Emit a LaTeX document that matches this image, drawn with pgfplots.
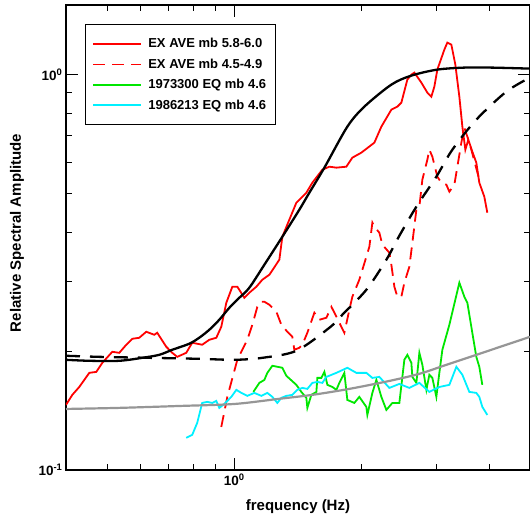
\documentclass[border=0pt]{standalone}
\usepackage{fontspec}
\setmainfont{Liberation Sans}
\usepackage{pgfplots}
\pgfplotsset{compat=1.18}
\definecolor{myred}{RGB}{255,0,0}
\definecolor{mygreen}{RGB}{0,230,0}
\definecolor{mycyan}{RGB}{0,240,255}
\definecolor{mygray}{RGB}{150,150,150}
\begin{document}
\begin{tikzpicture}[x=1pt,y=1pt]
\useasboundingbox (0,0) rectangle (530,516);
\begin{axis}[
  at={(66pt,46pt)}, anchor=south west,
  scale only axis, width=464pt, height=465pt,
  xmode=log, ymode=log,
  xmin=0.4, xmax=5, ymin=0.1, ymax=1.5,
  xtick={1}, xticklabels={\textbf{10\textsuperscript{0}}},
  ytick={0.1,1}, yticklabels={\textbf{10\textsuperscript{-1}},\textbf{10\textsuperscript{0}}},
  minor xtick={0.5,0.6,0.7,0.8,0.9,2,3,4},
  minor ytick={0.2,0.3,0.4,0.5,0.6,0.7,0.8,0.9},
  major tick length=12pt, minor tick length=6pt,
  tick style={black, line width=0.8pt},
  axis line style={line width=1.3pt},
  ticklabel style={font=\fontsize{13.5}{15}\selectfont},
  xlabel={\textbf{frequency (Hz)}},
  ylabel={\textbf{Relative Spectral Amplitude}},
  label style={font=\fontsize{15}{18}\selectfont},
  xlabel style={at={(axis description cs:0.5,-0.0796)}, anchor=center},
  ylabel style={at={(axis description cs:-0.1056,0.51)}, anchor=center},
  legend style={at={(axis description cs:0.041,0.959)}, anchor=north west,
    draw=black, line width=1pt, font=\bfseries\fontsize{13}{15}\selectfont,
    inner xsep=7pt, inner ysep=12pt, row sep=5.5pt,
    cells={anchor=west}},
  legend image code/.code={\draw[#1, line width=1.8pt] (0pt,0pt) -- (48pt,0pt); \path (52pt,0pt);},
]
% spectra
\addplot[myred, line width=1.8pt] coordinates {
(0.4,0.1461)(0.414,0.1549)(0.43,0.1622)(0.4541,0.1761)(0.4718,0.1771)(0.4874,0.1867)(0.5147,0.1991)(0.5346,0.1979)(0.5554,0.2074)(0.5738,0.2147)(0.596,0.216)(0.6192,0.2237)(0.6467,0.2198)(0.6573,0.2224)(0.6903,0.205)(0.7133,0.1979)(0.7329,0.1933)(0.7697,0.1979)(0.7952,0.2098)(0.8396,0.2074)(0.8727,0.2135)(0.9066,0.216)(0.9315,0.2303)(0.9573,0.2648)(0.9893,0.2908)(1.0165,0.2908)(1.056,0.2727)(1.0852,0.2808)(1.1274,0.2908)(1.1648,0.3029)(1.21,0.3118)(1.2777,0.3403)(1.2988,0.3891)(1.3491,0.4296)(1.4016,0.4743)(1.4247,0.4827)(1.4801,0.5028)(1.5293,0.533)(1.6151,0.5749)(1.6778,0.585)(1.743,0.5817)(1.8403,0.585)(1.9014,0.6166)(1.9966,0.6348)(2.1431,0.6729)(2.2263,0.7386)(2.3508,0.8155)(2.4289,0.8299)(2.4822,0.8495)(2.5647,0.9713)(2.6212,1.0)(2.6645,1.0118)(2.7678,0.9545)(2.8598,0.9004)(2.9226,0.8796)(2.9708,0.9325)(3.0197,1.0296)(3.137,1.1568)(3.1886,1.205)(3.2587,1.191)(3.3306,1.0601)(3.4039,0.8796)(3.4601,0.7386)(3.5169,0.646)(3.5748,0.6848)(3.6532,0.6385)(3.7337,0.5989)(3.795,0.533)(3.8998,0.4912)(3.9639,0.4475)
};
\addlegendentry{EX AVE mb 5.8-6.0}
\addplot[myred, line width=1.8pt, dash pattern=on 12pt off 7pt] coordinates {
(0.9315,0.1285)(0.9625,0.1531)(1.0165,0.19)(1.0733,0.2135)(1.1031,0.233)(1.1335,0.2587)(1.1584,0.2664)(1.1775,0.2664)(1.21,0.2618)(1.257,0.2514)(1.2916,0.233)(1.3346,0.2237)(1.3713,0.2172)(1.3863,0.2014)(1.4247,0.2038)(1.4482,0.2074)(1.4881,0.2224)(1.546,0.2499)(1.5889,0.2399)(1.6507,0.2427)(1.6961,0.2587)(1.7335,0.247)(1.7714,0.2358)(1.8203,0.2224)(1.8705,0.2543)(1.9014,0.2743)(1.975,0.3029)(2.0518,0.3463)(2.0855,0.3671)(2.1199,0.4222)(2.1431,0.4124)(2.2022,0.3983)(2.2385,0.3714)(2.3254,0.3545)(2.3508,0.3305)(2.3896,0.2908)(2.4289,0.2743)(2.4822,0.2743)(2.5232,0.2977)(2.5929,0.3267)(2.6357,0.3758)(2.6938,0.4554)(2.7379,0.4634)(2.7831,0.5424)(2.8598,0.6094)(2.891,0.646)(2.9387,0.6202)(3.0197,0.5519)(3.086,0.533)(3.1714,0.5268)(3.2236,0.5058)(3.3126,0.5268)(3.3671,0.585)(3.441,0.6729)(3.4979,0.7344)(3.5554,0.6968)(3.6331,0.646)(3.7132,0.5919)(3.795,0.5424)
};
\addlegendentry{EX AVE mb 4.5-4.9}
\addplot[mygreen, line width=1.8pt] coordinates {
(1.1091,0.1576)(1.1459,0.1661)(1.1775,0.169)(1.1969,0.1761)(1.23,0.1835)(1.2988,0.1814)(1.3274,0.1731)(1.4016,0.1642)(1.4402,0.1576)(1.4801,0.1522)(1.4881,0.1436)(1.5209,0.1549)(1.563,0.1576)(1.5715,0.171)(1.6062,0.171)(1.6328,0.1771)(1.6596,0.1642)(1.7055,0.1622)(1.743,0.1595)(1.7714,0.1661)(1.8203,0.1761)(1.8502,0.1504)(1.9221,0.1478)(1.975,0.1531)(2.0518,0.1444)(2.0629,0.1378)(2.1199,0.1567)(2.1666,0.169)(2.2263,0.1531)(2.2878,0.1419)(2.3637,0.1478)(2.4554,0.1478)(2.5232,0.19)(2.5647,0.1956)(2.6212,0.1867)(2.6357,0.172)(2.6938,0.1661)(2.7379,0.1979)(2.7831,0.1845)(2.8444,0.1595)(2.891,0.1741)(2.9387,0.171)(3.0034,0.1531)(3.0527,0.1761)(3.1031,0.2014)(3.2236,0.233)(3.4039,0.2977)(3.4979,0.2743)(3.5554,0.2648)(3.6331,0.2303)(3.7337,0.1933)(3.795,0.1824)(3.8576,0.1642)
};
\addlegendentry{1973300 EQ mb 4.6}
\addplot[mycyan, line width=1.8pt] coordinates {
(0.7697,0.1206)(0.7952,0.1227)(0.8171,0.1316)(0.8396,0.1478)(0.8628,0.1487)(0.8871,0.1478)(0.9066,0.1495)(0.9215,0.1436)(0.9469,0.1469)(0.9838,0.1531)(1.0111,0.1595)(1.0388,0.1567)(1.0733,0.154)(1.1151,0.1567)(1.1584,0.154)(1.1969,0.1567)(1.23,0.1531)(1.2638,0.1478)(1.2916,0.1522)(1.3274,0.154)(1.3713,0.1549)(1.4091,0.1595)(1.4482,0.1613)(1.4881,0.1604)(1.5293,0.1661)(1.5715,0.167)(1.6151,0.1661)(1.6507,0.172)(1.743,0.1761)(1.8502,0.1814)(1.9432,0.1761)(2.0518,0.1761)(2.1199,0.171)(2.2022,0.172)(2.3254,0.1613)(2.4554,0.1651)(2.5929,0.1613)(2.7379,0.1661)(2.891,0.1576)(3.0527,0.1622)(3.2236,0.1642)(3.3489,0.1824)(3.4601,0.1741)(3.5939,0.1576)(3.7337,0.1567)(3.795,0.1531)(3.8576,0.1444)(3.9639,0.1378)
};
\addlegendentry{1986213 EQ mb 4.6}
% model curves
\addplot[mygray, line width=2.2pt, smooth, forget plot] coordinates {
(0.4,0.1427)(0.5346,0.1436)(0.7409,0.1452)(1.0,0.1469)(1.2777,0.1514)(1.5293,0.1549)(1.8705,0.1604)(2.3254,0.168)(2.7379,0.1751)(3.1714,0.1845)(3.8576,0.1979)(5.0,0.2172)
};
\addplot[black, line width=2.3pt, smooth, forget plot] coordinates {
(0.4,0.190)(0.4541,0.1889)(0.5346,0.1889)(0.6058,0.1922)(0.6645,0.1956)(0.7133,0.2014)(0.7823,0.2086)(0.826,0.216)(0.8727,0.2263)(0.9215,0.2399)(0.9732,0.2572)(1.0276,0.2727)(1.0852,0.2891)(1.1775,0.3305)(1.2988,0.3891)(1.4247,0.4554)(1.5045,0.5028)(1.6328,0.5817)(1.8502,0.7386)(2.0295,0.8299)(2.3508,0.9434)(2.6212,0.9943)(3.0197,1.0296)(3.4979,1.0417)(4.051,1.0417)(5.0,1.0356)
};
\addplot[black, line width=2.3pt, smooth, dash pattern=on 14pt off 10pt, forget plot] coordinates {
(0.4,0.1945)(0.4795,0.1933)(0.6293,0.1922)(0.826,0.1911)(1.0,0.19)(1.1648,0.1922)(1.4016,0.2002)(1.6778,0.229)(1.8006,0.247)(2.0518,0.2857)(2.2878,0.3403)(2.4554,0.3914)(2.6938,0.4634)(3.0034,0.5519)(3.2768,0.646)(3.7337,0.7694)(4.396,0.9057)(5.0,0.9827)
};
\end{axis}
\end{tikzpicture}
\end{document}
